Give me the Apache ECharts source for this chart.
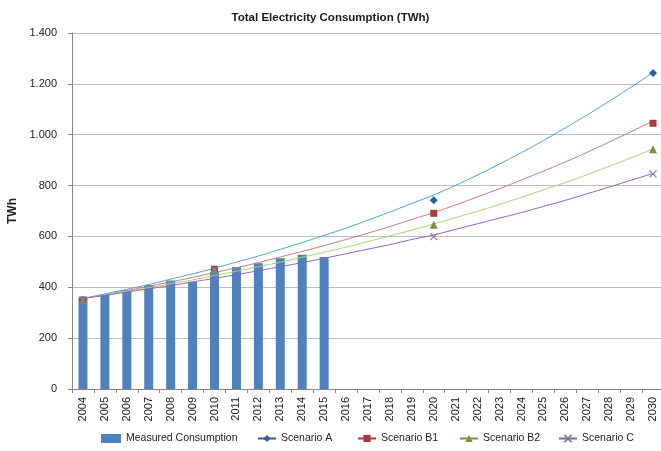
<!DOCTYPE html>
<html>
<head>
<meta charset="utf-8">
<script src="https://cdn.jsdelivr.net/npm/echarts@6/dist/echarts.min.js"></script>
<style>html,body{margin:0;padding:0;background:#fff}#c{width:661px;height:451px}</style>
</head>
<body>
<div id="c"></div>
<script>
// ---- data ----
const years = ['2004','2005','2006','2007','2008','2009','2010','2011','2012','2013','2014','2015','2016','2017','2018','2019','2020','2021','2022','2023','2024','2025','2026','2027','2028','2029','2030'];
const measured = [359, 372, 388, 409, 427, 422, 461, 480, 495, 514, 528, 519];
const scenarioYears = ['2004','2010','2020','2030'];
const scenarioA  = [350, 470, 742, 1243];
const scenarioB1 = [350, 471, 691, 1045];
const scenarioB2 = [350, 468, 646, 943];
const scenarioC  = [350, 468, 599, 846];
// trendlines, one value per year
const trendA  = [356, 374, 392, 411, 432, 453, 475, 499, 523, 549, 576, 604, 633, 664, 696, 730, 763, 801, 842, 885, 930, 977, 1027, 1078, 1132, 1187, 1245];
const trendB1 = [356, 371, 387, 404, 421, 439, 458, 477, 497, 519, 541, 564, 588, 613, 639, 667, 694, 724, 756, 788, 822, 857, 893, 931, 971, 1012, 1054];
const trendB2 = [356, 370, 384, 398, 414, 429, 446, 463, 481, 499, 518, 538, 558, 580, 602, 625, 649, 674, 699, 726, 754, 783, 812, 843, 876, 909, 944];
const trendC  = [356, 368, 381, 394, 407, 421, 435, 450, 465, 481, 497, 514, 532, 550, 568, 588, 606, 628, 650, 672, 694, 718, 742, 768, 794, 821, 848];
const yTicks = {min: 0, max: 1400, interval: 200};
const legendNames = ['Measured Consumption', 'Scenario A', 'Scenario B1', 'Scenario B2', 'Scenario C'];

function sparse(vals) {
  return years.map(y => { const i = scenarioYears.indexOf(y); return i >= 0 ? vals[i] : null; });
}
function fmt(v) { return v >= 1000 ? String(v).replace(/(\d)(\d{3})$/, '$1.$2') : String(v); }

const FONT = 'Liberation Sans';
const chart = echarts.init(document.getElementById('c'), null, {renderer: 'canvas'});
const xPath = 'path://M0,0L10,10M10,0L0,10';

function markerSeries(name, vals, symbol, color, size) {
  return {
    name: name, type: 'line', data: sparse(vals), connectNulls: false,
    showSymbol: true, showAllSymbol: true, symbol: symbol, symbolSize: size,
    itemStyle: {color: color},
    lineStyle: {color: color, width: 2},
    z: 5
  };
}
function trendSeries(name, vals, color) {
  return {
    name: name, type: 'line', data: vals, smooth: true, showSymbol: false,
    silent: true, lineStyle: {color: color, width: 1}, z: 3
  };
}

const cSeries = markerSeries('Scenario C', scenarioC, xPath, '#8064a2', 7);
cSeries.itemStyle = {color: 'rgba(0,0,0,0)', borderColor: '#8a79b0', borderWidth: 1.2};

const legendLefts = [96, 252, 352, 454, 553];
const legends = legendNames.map((n, i) => ({
  left: legendLefts[i], top: 428, itemWidth: i === 0 ? 20 : 18, itemHeight: 9,
  textStyle: {fontFamily: FONT, fontSize: 10.5, color: '#222'},
  data: [i === 0 ? {name: n, icon: 'rect'} : {name: n}]
}));

chart.setOption({
  backgroundColor: '#ffffff',
  animation: false,
  textStyle: {fontFamily: FONT},
  title: {
    text: 'Total Electricity Consumption (TWh)', left: 'center', top: 7,
    textStyle: {fontFamily: FONT, fontSize: 11.5, fontWeight: 'bold', color: '#1a1a1a'}
  },
  legend: legends,
  grid: {left: 72, right: -3, top: 33, bottom: 62, containLabel: false, outerBoundsMode: 'none'},
  xAxis: {
    type: 'category', data: years, boundaryGap: true,
    axisLine: {lineStyle: {color: '#868686'}},
    axisTick: {show: true, length: 4, lineStyle: {color: '#868686'}},
    axisLabel: {rotate: 90, interval: 0, fontSize: 11, color: '#222', margin: 8, fontFamily: FONT}
  },
  yAxis: {
    type: 'value', min: yTicks.min, max: yTicks.max, interval: yTicks.interval,
    name: 'TWh', nameLocation: 'middle', nameGap: 52,
    nameTextStyle: {fontFamily: FONT, fontSize: 12, fontWeight: 'bold', color: '#222'},
    axisLine: {show: true, lineStyle: {color: '#868686'}},
    axisTick: {show: true, length: 4, lineStyle: {color: '#868686'}},
    axisLabel: {fontSize: 11, color: '#222', margin: 15, formatter: fmt, fontFamily: FONT},
    splitLine: {lineStyle: {color: '#bcbcbc'}}
  },
  series: [
    {name: 'Measured Consumption', type: 'bar', data: measured, barWidth: 9,
     itemStyle: {color: '#4f81bd'}, z: 2},
    trendSeries('Trend A', trendA, '#4aa3df'),
    trendSeries('Trend B1', trendB1, '#c47a78'),
    trendSeries('Trend B2', trendB2, '#a2d76e'),
    trendSeries('Trend C', trendC, '#8b62c7'),
    markerSeries('Scenario A', scenarioA, 'diamond', '#2e5e9e', 8),
    markerSeries('Scenario B1', scenarioB1, 'rect', '#a83b3b', 7),
    markerSeries('Scenario B2', scenarioB2, 'triangle', '#76923c', 8),
    cSeries
  ]
});
</script>
</body>
</html>
